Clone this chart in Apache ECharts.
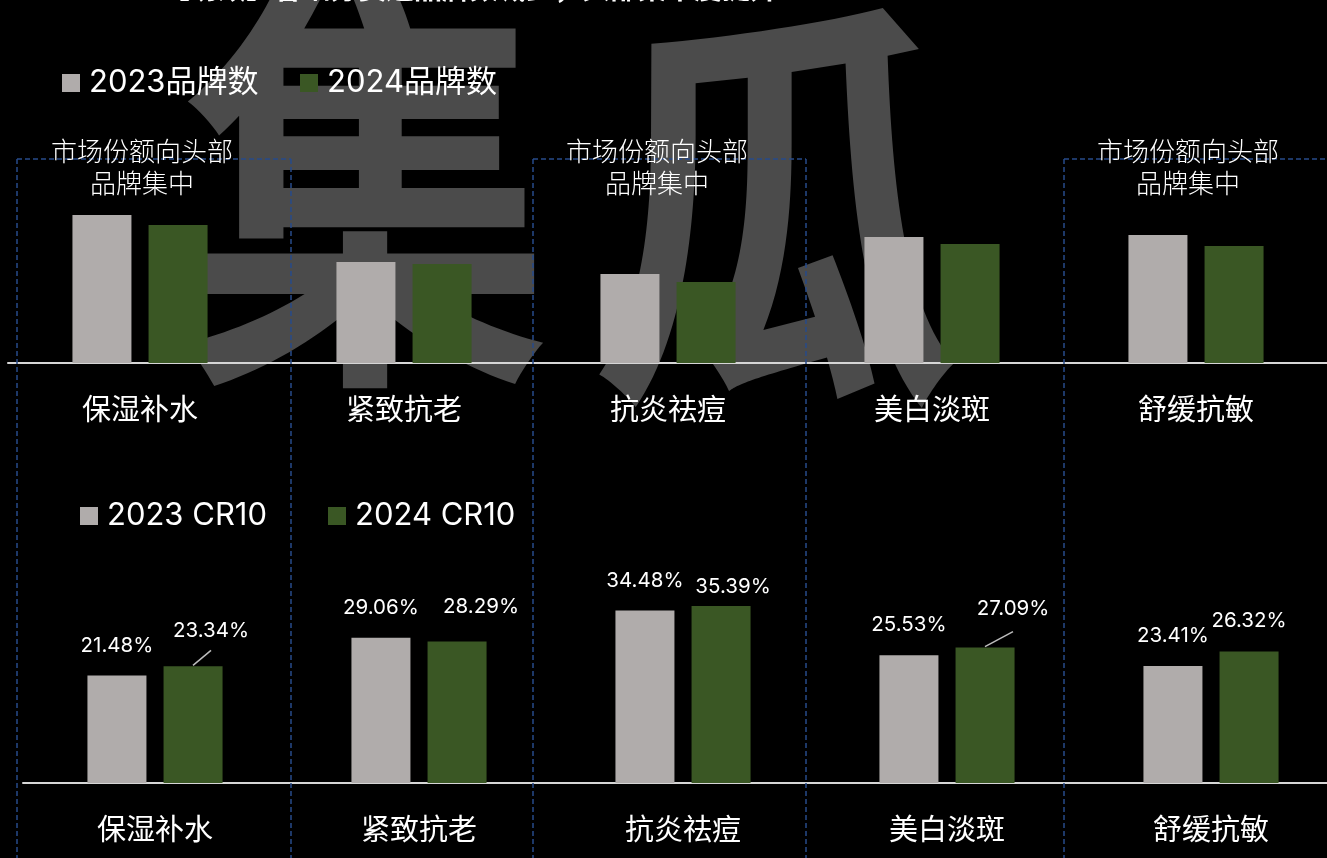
<!DOCTYPE html>
<html>
<head>
<meta charset="utf-8">
<script src="https://cdn.jsdelivr.net/npm/echarts@6/dist/echarts.min.js"></script>
<style>
  html, body { margin: 0; padding: 0; background: #000; }
  #main { width: 1327px; height: 858px; }
</style>
</head>
<body>
<div id="main"></div>
<script>
// 数据
var categories = ['保湿补水', '紧致抗老', '抗炎祛痘', '美白淡斑', '舒缓抗敏'];
var brand2023 = [148, 101, 89, 126, 128];
var brand2024 = [138, 99, 81, 119, 117];
var cr2023 = [21.48, 29.06, 34.48, 25.53, 23.41];
var cr2024 = [23.34, 28.29, 35.39, 27.09, 26.32];
var legendTop = ['2023品牌数', '2024品牌数'];
var legendBottom = ['2023 CR10', '2024 CR10'];
var noteText = '市场份额向头部\n品牌集中';
var leaderIdx = [0, 3]; // 2024 CR10 带引导线的标签

// 2024 CR10 标签的偏移（样式）
var labelShift = [[18, -5], [24, -4], [12, 11], [28, -8], [0, 0]];

var GRAY = '#b0acab';
var GREEN = '#3a5724';
var DASH = '#274b8a';
var FONT = 'Inter, "Noto Sans CJK SC", sans-serif';
var CJK = '"Noto Sans CJK SC", sans-serif';

var myChart = echarts.init(document.getElementById('main'));

// 虚线框
function dashLine(x1, y1, x2, y2) {
  return {
    type: 'line', z: 5, silent: true,
    shape: { x1: x1, y1: y1, x2: x2, y2: y2 },
    style: { stroke: DASH, lineWidth: 1.5, lineDash: [5, 3] }
  };
}
function note(x) {
  return {
    type: 'text', z: 20, silent: true,
    style: {
      x: x, y: 135, text: noteText, fill: '#fff', font: '300 26px ' + CJK,
      textAlign: 'center', lineHeight: 32
    }
  };
}
function mark(ch, x, y) {
  return {
    type: 'text', z: 0, silent: true, x: x, y: y, scaleY: 1.15,
    style: { x: 0, y: 0, text: ch, fill: '#4b4b4b', font: 'bold 372px ' + CJK,
      textAlign: 'center', textVerticalAlign: 'middle' }
  };
}

var graphics = [
  mark('集', 366, 188), mark('瓜', 776, 206),
  { type: 'text', z: 20, silent: true,
    style: { x: 162, y: 2, text: '【功效】各细分赛道品牌数减少，头部集中度提升', fill: '#fff', font: 'bold 28px ' + CJK, textVerticalAlign: 'bottom' } },
  dashLine(17, 159, 291, 159), dashLine(533, 159, 806, 159), dashLine(1064, 159, 1327, 159),
  dashLine(17, 159, 17, 858), dashLine(291, 159, 291, 858), dashLine(533, 159, 533, 858),
  dashLine(806, 159, 806, 858), dashLine(1064, 159, 1064, 858),
  note(142), note(657), note(1188)
];

function legendOf(name, left, top) {
  return {
    data: [name], left: left, top: top, icon: 'rect', padding: 0,
    itemWidth: 18, itemHeight: 18, selectedMode: false,
    textStyle: { color: '#fff', fontSize: 31, fontFamily: FONT, lineHeight: 32, padding: [0, 0, 0, 4] }
  };
}

function xAxisOf(gridIndex) {
  return {
    type: 'category', gridIndex: gridIndex, data: categories,
    axisTick: { show: false },
    axisLine: { show: true, lineStyle: { color: '#d6d6d6', width: 2 } },
    axisLabel: { color: '#fff', fontSize: 29, fontFamily: CJK, margin: 31, interval: 0 }
  };
}

function pctLabel() {
  return { show: true, position: 'top', distance: 20, color: '#fff', fontSize: 20.5, fontFamily: FONT,
    formatter: function (p) { return p.value.toFixed(2) + '%'; } };
}

myChart.setOption({
  backgroundColor: '#000',
  animation: false,
  graphic: graphics,
  legend: [
    legendOf(legendTop[0], 62, 67), legendOf(legendTop[1], 300, 67),
    legendOf(legendBottom[0], 80, 500), legendOf(legendBottom[1], 328, 500)
  ],
  grid: [
    { left: 8, width: 1320, top: 163, height: 200, outerBoundsMode: 'none', containLabel: false },
    { left: 23, width: 1320, top: 583, height: 200, outerBoundsMode: 'none', containLabel: false }
  ],
  xAxis: [xAxisOf(0), xAxisOf(1)],
  yAxis: [
    { type: 'value', gridIndex: 0, min: 0, max: 200, show: false, splitLine: { show: false } },
    { type: 'value', gridIndex: 1, min: 0, max: 40, show: false, splitLine: { show: false } }
  ],
  series: [
    { name: legendTop[0], type: 'bar', xAxisIndex: 0, yAxisIndex: 0, data: brand2023,
      barWidth: 59, barGap: '29%', itemStyle: { color: GRAY } },
    { name: legendTop[1], type: 'bar', xAxisIndex: 0, yAxisIndex: 0, data: brand2024,
      barWidth: 59, barGap: '29%', itemStyle: { color: GREEN } },
    { name: legendBottom[0], type: 'bar', xAxisIndex: 1, yAxisIndex: 1, data: cr2023,
      barWidth: 59, barGap: '29%', itemStyle: { color: GRAY }, label: pctLabel() },
    { name: legendBottom[1], type: 'bar', xAxisIndex: 1, yAxisIndex: 1, data: cr2024,
      barWidth: 59, barGap: '29%', itemStyle: { color: GREEN }, label: pctLabel(),
      labelLayout: function (params) {
        var s = labelShift[params.dataIndex];
        return { dx: s[0], dy: s[1] };
      } },
    // 标签引导线
    { type: 'custom', xAxisIndex: 1, yAxisIndex: 1, z: 3, silent: true,
      data: leaderIdx.map(function (i) { return [i, cr2024[i]]; }),
      renderItem: function (params, api) {
        var i = api.value(0);
        var p = api.coord([i, api.value(1)]);
        var cx = p[0] + 38;
        var s = labelShift[i];
        return {
          type: 'line',
          shape: { x1: cx, y1: p[1] - 1, x2: cx + s[0], y2: p[1] - 16 },
          style: { stroke: '#bdbdbd', lineWidth: 1.5 }
        };
      } }
  ]
});
</script>
</body>
</html>
